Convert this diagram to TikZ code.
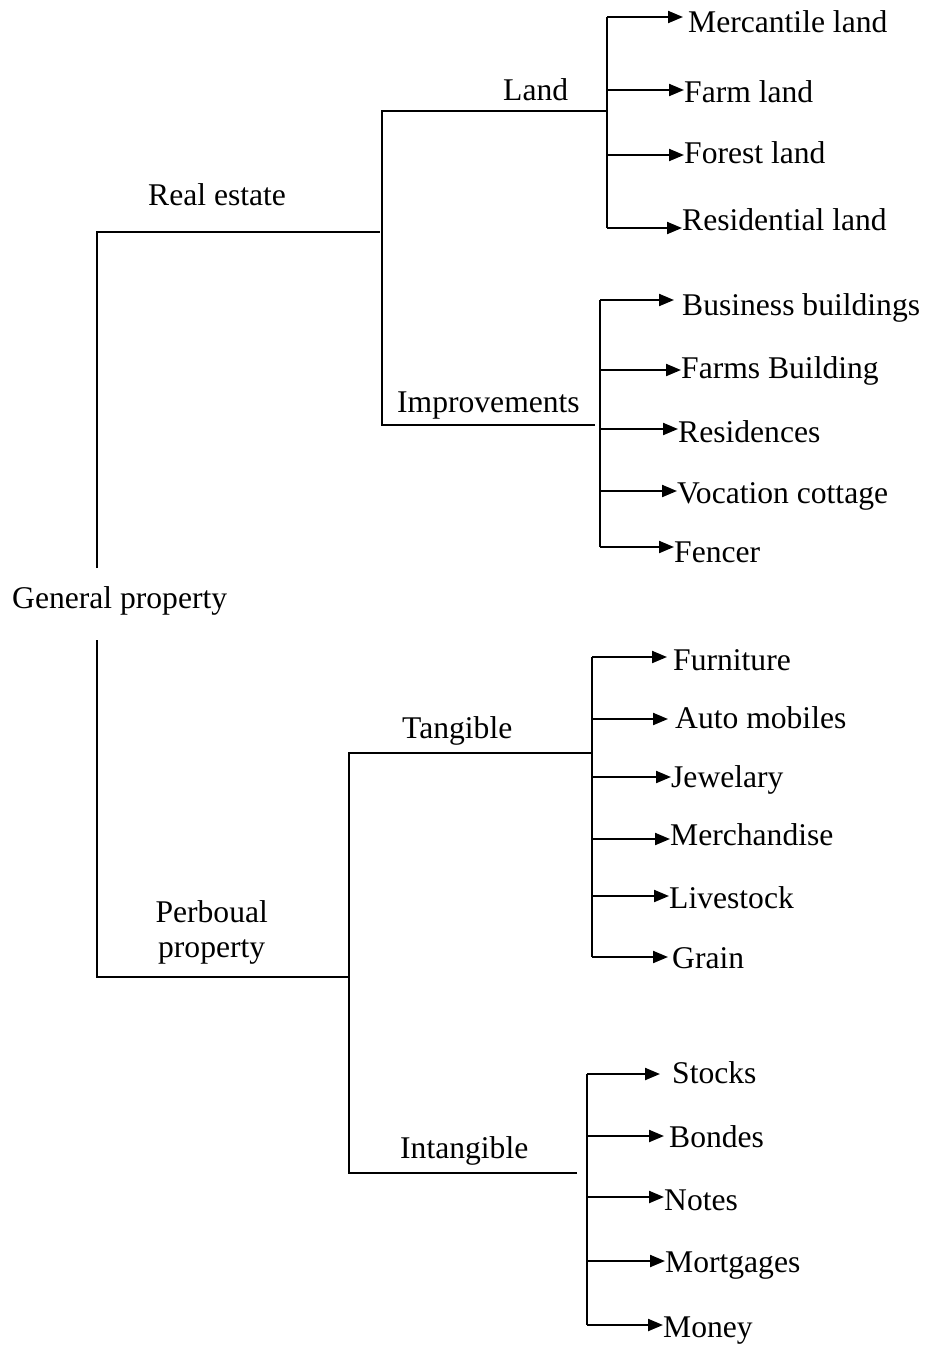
\documentclass[tikz,border=0pt]{standalone}
\usepackage{fontspec}
\setmainfont{Liberation Serif}
\usetikzlibrary{arrows.meta}
\begin{document}
\begin{tikzpicture}[x=1pt,y=-1pt,
  conn/.style={line width=2.1pt,line join=miter},
  arr/.style={conn,-{Triangle[length=15pt,width=12pt]}},
  lbl/.style={inner sep=0pt,anchor=base west,font=\fontsize{31.6}{32}\selectfont}]
\useasboundingbox (0,0) rectangle (928,1347);
% labels
\node[lbl] (gp) at (12,608) {General property};
\node[lbl] (re) at (148,205) {Real estate};
\node[lbl,anchor=base,font=\fontsize{31.6}{35.5}\selectfont] (pp) at (211.7,922) {\begin{tabular}[t]{@{}c@{}}Perboual\\property\end{tabular}};
\node[lbl] (land) at (503,100) {Land};
\node[lbl] (imp) at (397,412) {Improvements};
\node[lbl] (tan) at (402,738) {Tangible};
\node[lbl] (intan) at (400,1158) {Intangible};
% leaves
\node[lbl] (l1) at (688,32) {Mercantile land};
\node[lbl] (l2) at (684,102) {Farm land};
\node[lbl] (l3) at (684,163) {Forest land};
\node[lbl] (l4) at (682,230) {Residential land};
\node[lbl] (i1) at (682,315) {Business buildings};
\node[lbl] (i2) at (681,378) {Farms Building};
\node[lbl] (i3) at (678,442) {Residences};
\node[lbl] (i4) at (677,503) {Vocation cottage};
\node[lbl] (i5) at (674,562) {Fencer};
\node[lbl] (t1) at (673,670) {Furniture};
\node[lbl] (t2) at (675,728) {Auto mobiles};
\node[lbl] (t3) at (671,787) {Jewelary};
\node[lbl] (t4) at (670,845) {Merchandise};
\node[lbl] (t5) at (669,908) {Livestock};
\node[lbl] (t6) at (672,968) {Grain};
\node[lbl] (n1) at (672,1083) {Stocks};
\node[lbl] (n2) at (669,1147) {Bondes};
\node[lbl] (n3) at (664,1210) {Notes};
\node[lbl] (n4) at (665,1272) {Mortgages};
\node[lbl] (n5) at (663,1337) {Money};
% junction coordinates
\coordinate (gpT) at (97,568);
\coordinate (gpB) at (97,640);
\coordinate (reC) at (97,232);
\coordinate (reE) at (380,232);
\coordinate (ppC) at (97,977);
\coordinate (ppE) at (349,977);
\coordinate (landC) at (382,111);
\coordinate (landE) at (607,111);
\coordinate (impC) at (382,425);
\coordinate (impE) at (595,425);
\coordinate (tanC) at (349,753);
\coordinate (tanE) at (592,753);
\coordinate (intC) at (349,1173);
\coordinate (intE) at (577,1173);
% main brackets
\draw[conn] (gpT) -- (reC) -- (reE);
\draw[conn] (gpB) -- (ppC) -- (ppE);
\draw[conn] (impE) -- (impC) -- (landC) -- (landE);
\draw[conn] (intE) -- (intC) -- (tanC) -- (tanE);
% Land fan
\coordinate (la1) at (607,17);
\coordinate (la2) at (607,90);
\coordinate (la3) at (607,155);
\coordinate (la4) at (607,228);
\draw[conn] (la1) -- (la4);
\draw[arr] (la1) -- ([xshift=-5pt]la1 -| l1.west);
\draw[arr] (la2) -- (la2 -| l2.west);
\draw[arr] (la3) -- (la3 -| l3.west);
\draw[arr] (la4) -- (la4 -| l4.west);
% Improvements fan
\coordinate (ia1) at (600,300);
\coordinate (ia2) at (600,370);
\coordinate (ia3) at (600,429);
\coordinate (ia4) at (600,491);
\coordinate (ia5) at (600,547);
\draw[conn] (ia1) -- (ia5);
\draw[arr] (ia1) -- ([xshift=-8pt]ia1 -| i1.west);
\draw[arr] (ia2) -- (ia2 -| i2.west);
\draw[arr] (ia3) -- (ia3 -| i3.west);
\draw[arr] (ia4) -- (ia4 -| i4.west);
\draw[arr] (ia5) -- (ia5 -| i5.west);
% Tangible fan
\coordinate (ta1) at (592,657);
\coordinate (ta2) at (592,719);
\coordinate (ta3) at (592,777);
\coordinate (ta4) at (592,839);
\coordinate (ta5) at (592,896);
\coordinate (ta6) at (592,957);
\draw[conn] (ta1) -- (ta6);
\draw[arr] (ta1) -- ([xshift=-6pt]ta1 -| t1.west);
\draw[arr] (ta2) -- ([xshift=-7pt]ta2 -| t2.west);
\draw[arr] (ta3) -- (ta3 -| t3.west);
\draw[arr] (ta4) -- (ta4 -| t4.west);
\draw[arr] (ta5) -- (ta5 -| t5.west);
\draw[arr] (ta6) -- ([xshift=-4pt]ta6 -| t6.west);
% Intangible fan
\coordinate (na1) at (587,1074);
\coordinate (na2) at (587,1136);
\coordinate (na3) at (587,1197);
\coordinate (na4) at (587,1261);
\coordinate (na5) at (587,1325);
\draw[conn] (na1) -- (na5);
\draw[arr] (na1) -- ([xshift=-12pt]na1 -| n1.west);
\draw[arr] (na2) -- ([xshift=-5pt]na2 -| n2.west);
\draw[arr] (na3) -- (na3 -| n3.west);
\draw[arr] (na4) -- (na4 -| n4.west);
\draw[arr] (na5) -- (na5 -| n5.west);
\end{tikzpicture}
\end{document}
